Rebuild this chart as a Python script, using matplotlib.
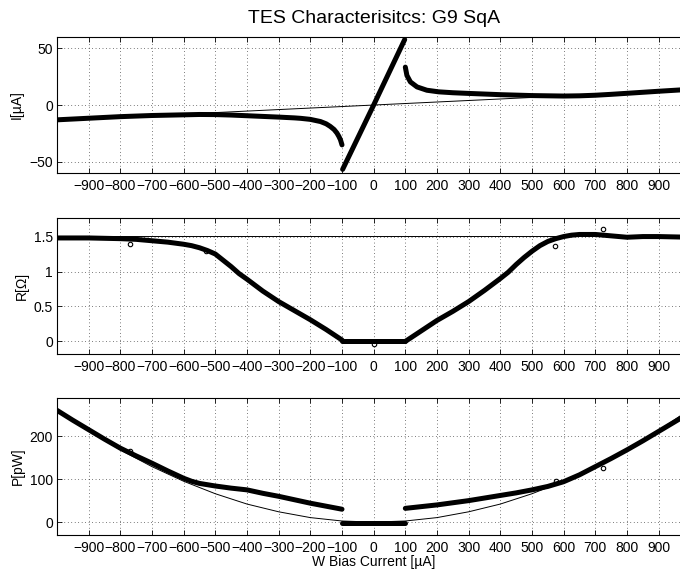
import matplotlib
matplotlib.use('Agg')
import matplotlib.pyplot as plt

plt.rcParams['font.family'] = ['Liberation Sans', 'DejaVu Sans']
plt.rcParams['font.size'] = 10

# --- I vs bias ---
i_left_x = [-1000, -900, -800, -700, -600, -550, -500, -450, -400, -350, -300, -250, -230, -200,
            -168, -150, -137, -125, -116, -110, -105, -100]
i_left_y = [-13.0, -11.6, -10.2, -9.2, -8.6, -8.3, -8.4, -8.8, -9.4, -10.0, -10.6, -11.3, -11.7, -12.6,
            -14.5, -16.5, -18.8, -21.5, -24.6, -27.5, -30.4, -35.0]
i_sc_x = [-98, 0, 98]
i_sc_y = [-56.5, 0, 57.5]
i_right_x = [100, 105, 116, 137, 168, 205, 250, 300, 400, 500, 600, 650, 700, 750, 800, 850, 900, 1000]
i_right_y = [33.3, 26.0, 20.3, 15.9, 13.0, 11.6, 10.8, 10.2, 9.1, 8.3, 7.9, 8.1, 8.6, 9.4, 10.3, 11.2, 12.1, 13.8]
i_fit_x = [-1000, 1000]
i_fit_y = [-13.3, 13.3]

# --- R vs bias ---
r_left_x = [-1000, -900, -800, -750, -700, -650, -600, -575, -550, -525, -500, -475, -450, -425,
            -400, -350, -300, -250, -200, -150, -100]
r_left_y = [1.48, 1.48, 1.47, 1.46, 1.44, 1.42, 1.39, 1.37, 1.34, 1.30, 1.25, 1.16, 1.07, 0.97,
            0.89, 0.72, 0.57, 0.44, 0.31, 0.17, 0.02]
r_sc_x = [-100, 100]
r_sc_y = [0.0, 0.0]
r_right_x = [100, 150, 200, 250, 300, 350, 400, 425, 450, 475, 500, 525, 550, 575, 600, 625,
             650, 700, 750, 800, 850, 900, 1000]
r_right_y = [0.0, 0.15, 0.30, 0.43, 0.57, 0.73, 0.90, 0.99, 1.10, 1.20, 1.29, 1.37, 1.43, 1.47, 1.50, 1.52,
             1.53, 1.53, 1.51, 1.49, 1.50, 1.50, 1.49]
r_out_x = [-771, -529, 0, 574, 724]
r_out_y = [1.39, 1.29, -0.03, 1.37, 1.61]
r_normal = 1.51

# --- P vs bias ---
p_left_x = [-1000, -950, -900, -850, -800, -750, -700, -650, -600, -575, -550, -500, -450, -400,
            -350, -300, -250, -200, -150, -100]
p_left_y = [260, 237, 215, 193, 172, 154, 137, 119, 102, 95, 90, 84, 79, 75,
            67, 60, 52, 44, 37, 30]
p_sc_x = [-100, 100]
p_sc_y = [-1, -1]
p_right_x = [100, 150, 200, 300, 400, 450, 500, 550, 600, 650, 700, 750, 800, 850, 900, 950, 1000]
p_right_y = [32, 36, 40, 50, 62, 68, 75, 83, 94, 110, 129, 148, 168, 189, 211, 233, 255]
p_fit_x = [-1000, -900, -800, -700, -600, -500, -400, -300, -200, -100, 0,
           100, 200, 300, 400, 500, 600, 700, 800, 900, 1000]
p_fit_y = [263, 213, 168, 129, 95, 66, 42, 24, 10.5, 2.6, 0,
           2.6, 10.5, 24, 42, 66, 95, 129, 168, 213, 263]
p_out_x = [-770, 575, 725]
p_out_y = [166, 96, 126]

xticks = list(range(-900, 1000, 100))

fig = plt.figure(figsize=(6.8, 5.73), dpi=100)
left, width = 0.0838, 0.9314
ax1 = fig.add_axes([left, 0.6975, width, 0.2384])
ax2 = fig.add_axes([left, 0.3822, width, 0.2379])
ax3 = fig.add_axes([left, 0.0663, width, 0.2386])

thick = dict(color='k', lw=3.6, solid_capstyle='round', solid_joinstyle='round')
thin = dict(color='k', lw=0.7)
outl = dict(ls='none', marker='o', ms=3.2, mfc='none', mec='k', mew=0.8)

ax1.plot(i_fit_x, i_fit_y, **thin)
ax1.plot(i_left_x, i_left_y, **thick)
ax1.plot(i_sc_x, i_sc_y, **thick)
ax1.plot(i_right_x, i_right_y, **thick)
ax1.set_ylim(-60, 60)
ax1.set_yticks([-50, 0, 50])
ax1.set_ylabel('I[µA]')
ax1.yaxis.set_label_coords(-0.053, 0.5)
ax1.set_title('TES Characterisitcs: G9 SqA', fontsize=14, pad=10)

ax2.axhline(r_normal, **thin)
ax2.plot(r_left_x, r_left_y, **thick)
ax2.plot(r_sc_x, r_sc_y, **thick)
ax2.plot(r_right_x, r_right_y, **thick)
ax2.plot(r_out_x, r_out_y, **outl)
ax2.set_ylim(-0.18, 1.77)
ax2.set_yticks([0, 0.5, 1, 1.5])
ax2.set_yticklabels(['0', '0.5', '1', '1.5'])
ax2.set_ylabel('R[Ω]')
ax2.yaxis.set_label_coords(-0.045, 0.5)

ax3.plot(p_fit_x, p_fit_y, **thin)
ax3.plot(p_left_x, p_left_y, **thick)
ax3.plot(p_sc_x, p_sc_y, **thick)
ax3.plot(p_right_x, p_right_y, **thick)
ax3.plot(p_out_x, p_out_y, **outl)
ax3.set_ylim(-30, 288)
ax3.set_yticks([0, 100, 200])
ax3.set_ylabel('P[pW]')
ax3.yaxis.set_label_coords(-0.051, 0.5)
ax3.set_xlabel('W Bias Current [µA]')
ax3.xaxis.set_label_coords(0.5, -0.145)

for ax in (ax1, ax2, ax3):
    ax.set_xlim(-1000, 1000)
    ax.set_xticks(xticks)
    ax.grid(True, color='k', lw=0.5, linestyle=(0, (1, 4)))
    ax.tick_params(direction='in', length=3.6, width=0.6, top=True, right=True,
                   labelsize=10)
    ax.tick_params(axis='x', pad=4)
    ax.tick_params(axis='y', pad=3)
    for s in ax.spines.values():
        s.set_linewidth(0.8)

fig.savefig('out.png', dpi=100)
